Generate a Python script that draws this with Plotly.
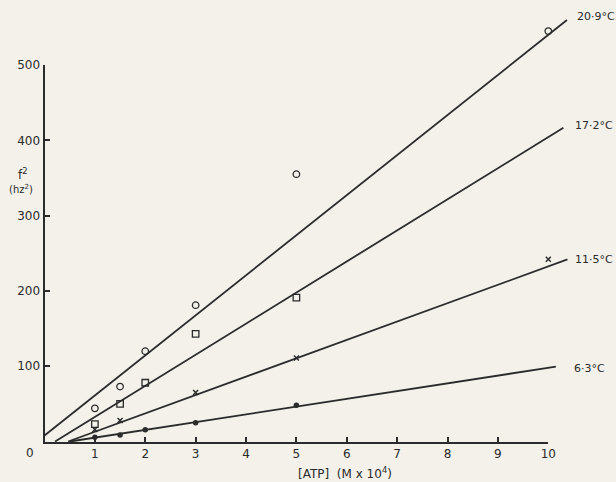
import plotly.graph_objects as go

# ---------------- data ----------------
atp_209 = [1, 1.5, 2, 3, 5, 10]
f2_209 = [44, 73, 120, 181, 355, 545]

atp_172 = [1, 1.5, 2, 3, 5]
f2_172 = [23, 50, 78, 143, 191]

atp_115 = [1, 1.5, 3, 5, 10]
f2_115 = [16, 28, 65, 111, 242]

atp_63 = [1, 1.5, 2, 3, 5]
f2_63 = [5.5, 8.5, 15.5, 25, 48]

# fitted straight lines drawn by the author (slope, intercept, x start, x end)
line_names = ["20·9°C", "17·2°C", "11·5°C", "6·3°C"]
line_slope = [53.2, 41.3, 24.4, 10.3]
line_icept = [8.0, -8.7, -11.5, -5.15]
line_x0 = [0.0, 0.21, 0.47, 0.5]
line_x1 = [10.37, 10.30, 10.38, 10.15]

x_ticks = [1, 2, 3, 4, 5, 6, 7, 8, 9, 10]
y_ticks = [100, 200, 300, 400, 500]

# ---------------- layout geometry (pixels) ----------------
W, H = 616, 482
PX0, PX10 = 44.5, 548.3      # pixel x of ATP = 0 and 10
PY0, PY500 = 441.5, 65.0     # pixel y of f2 = 0 and 500
sx = (PX10 - PX0) / 10.0
sy = (PY0 - PY500) / 500.0

INK = "#2b2b2b"
BG = "#f3f1ea"
FONT = "DejaVu Sans"

fig = go.Figure()

# empty trace so the frame axes (x, y) are drawn
fig.add_trace(go.Scatter(x=[None], y=[None], xaxis="x", yaxis="y", mode="markers",
                         showlegend=False, hoverinfo="skip"))

# fitted lines on the wide data axes
for name, m, b, xa, xb in zip(line_names, line_slope, line_icept, line_x0, line_x1):
    fig.add_trace(go.Scatter(
        x=[xa, xb], y=[m * xa + b, m * xb + b], mode="lines",
        line=dict(color=INK, width=1.8), xaxis="x2", yaxis="y2",
        hoverinfo="skip", showlegend=False))

mk = dict(xaxis="x2", yaxis="y2", mode="markers", showlegend=False, cliponaxis=False)
fig.add_trace(go.Scatter(x=atp_209, y=f2_209, name="20·9°C",
                         marker=dict(symbol="circle-open", size=6.5, color=INK, line=dict(width=1.3)), **mk))
fig.add_trace(go.Scatter(x=atp_172, y=f2_172, name="17·2°C",
                         marker=dict(symbol="square-open", size=6.5, color=INK, line=dict(width=1.3)), **mk))
fig.add_trace(go.Scatter(x=atp_115, y=f2_115, name="11·5°C",
                         marker=dict(symbol="x-thin", size=5, color=INK, line=dict(width=1.5, color=INK)), **mk))
fig.add_trace(go.Scatter(x=atp_63, y=f2_63, name="6·3°C",
                         marker=dict(symbol="circle", size=5.5, color=INK), **mk))

# temperature labels at the ends of the lines
label_x = [10.53, 10.49, 10.49, 10.47]
label_y = [564, 420, 242, 97]
for t, lx, ly in zip(line_names, label_x, label_y):
    fig.add_annotation(x=lx, y=ly, xref="x2", yref="y2", text=t, showarrow=False,
                       xanchor="left", yanchor="middle",
                       font=dict(family=FONT, size=11, color=INK))

# frame axes: exactly [0,10] x [0,500]
xdom = [PX0 / W, PX10 / W]
ydom = [1 - PY0 / H, 1 - PY500 / H]
# data axes: whole page with the same scale
x2_range = [(0 - PX0) / sx, (W - PX0) / sx]
y2_range = [(PY0 - H) / sy, (PY0 - 0) / sy]

tickfont = dict(family=FONT, size=12, color=INK)
fig.update_layout(
    width=W, height=H,
    margin=dict(l=0, r=0, t=0, b=0, pad=0, autoexpand=False),
    paper_bgcolor=BG, plot_bgcolor="rgba(0,0,0,0)",
    showlegend=False,
    xaxis=dict(domain=xdom, range=[0, 10], tickvals=x_ticks, ticktext=[str(v) for v in x_ticks],
               showline=True, linecolor=INK, linewidth=2, ticks="inside", ticklen=5,
               tickwidth=1.5, tickcolor=INK, showgrid=False, zeroline=False,
               tickfont=tickfont, anchor="y", automargin=False),
    yaxis=dict(domain=ydom, range=[0, 500], tickvals=y_ticks, ticktext=[str(v) for v in y_ticks],
               showline=True, linecolor=INK, linewidth=2, ticks="inside", ticklen=5,
               tickwidth=1.5, tickcolor=INK, showgrid=False, zeroline=False,
               tickfont=tickfont, anchor="x", automargin=False),
    xaxis2=dict(domain=[0, 1], range=x2_range, visible=False, anchor="y2", automargin=False),
    yaxis2=dict(domain=[0, 1], range=y2_range, visible=False, anchor="x2", automargin=False),
)

# origin label, axis titles
fig.add_annotation(x=(30 - PX0) / sx, y=(PY0 - 453) / sy, xref="x2", yref="y2", text="0",
                   showarrow=False, xanchor="center", yanchor="middle",
                   font=dict(family=FONT, size=12, color=INK))
fig.add_annotation(x=345 / W, y=1 - 473 / H, xref="paper", yref="paper",
                   xanchor="center", yanchor="middle",
                   text="[ATP]  (M x 10<sup>4</sup>)", showarrow=False,
                   font=dict(family=FONT, size=12, color=INK))
fig.add_annotation(x=23 / W, y=1 - 174 / H, xref="paper", yref="paper",
                   xanchor="center", yanchor="middle",
                   text="f<sup>2</sup>", showarrow=False,
                   font=dict(family=FONT, size=12, color=INK))
fig.add_annotation(x=21 / W, y=1 - 189 / H, xref="paper", yref="paper",
                   xanchor="center", yanchor="middle",
                   text="(hz<sup>2</sup>)", showarrow=False,
                   font=dict(family=FONT, size=10, color=INK))

fig.write_html("out.html")
